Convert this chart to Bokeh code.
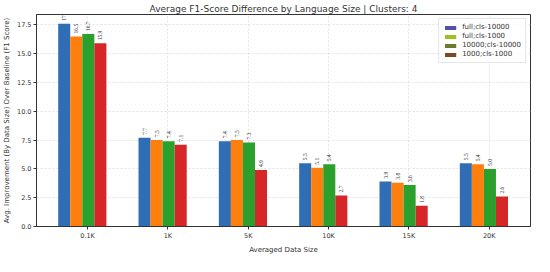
import numpy as np
from bokeh.plotting import figure
from bokeh.models import ColumnDataSource, Range1d, FixedTicker, Legend, LegendItem, CustomJSTickFormatter
from bokeh.embed import file_html
from bokeh.resources import INLINE

categories = ["0.1K", "1K", "5K", "10K", "15K", "20K"]
series_names = ["full;cls-10000", "full;cls-1000", "10000;cls-10000", "1000;cls-1000"]
s_full_10000 = [17.6, 7.7, 7.4, 5.5, 3.9, 5.5]
s_full_1000 = [16.5, 7.5, 7.5, 5.1, 3.8, 5.4]
s_10000_10000 = [16.7, 7.4, 7.3, 5.4, 3.6, 5.0]
s_1000_1000 = [15.9, 7.1, 4.9, 2.7, 1.8, 2.6]
series = [s_full_10000, s_full_1000, s_10000_10000, s_1000_1000]

bar_colors = ["#2f6db5", "#ff7f0e", "#2ca02c", "#d62728"]
legend_colors = ["#5252a8", "#9cc21e", "#6b7a2c", "#7a4a24"]

FONT = "DejaVu Sans"
bw = 0.15

p = figure(width=534, height=256, output_backend="svg", toolbar_location=None,
           x_range=Range1d(-0.57, 5.58), y_range=Range1d(0, 18.4),
           title="Average F1-Score Difference by Language Size | Clusters: 4",
           min_border_left=4, min_border_right=4, min_border_top=2, min_border_bottom=2)

p.title.align = "center"
p.title.text_font = FONT
p.title.text_font_size = "9px"
p.title.text_font_style = "normal"
p.title.text_color = "#333333"
p.title.standoff = 2

x_idx = np.arange(len(categories))
items = []
for j, (vals, name) in enumerate(zip(series, series_names)):
    xs = x_idx + (j - 1.5) * bw
    src = ColumnDataSource(dict(x=xs, top=vals, lab=[f"{v:.1f}" for v in vals]))
    p.vbar(x="x", top="top", width=bw, bottom=0, source=src,
           fill_color=bar_colors[j], line_color=None)
    p.text(x="x", y="top", text="lab", source=src, angle=np.pi / 2,
           x_offset=0, y_offset=-3, text_align="left", text_baseline="middle",
           text_font_size="5.5px", text_color="#333333", text_font="DejaVu Sans")
    dummy = p.vbar(x=[-10], top=[0], width=0.1, fill_color=legend_colors[j], line_color=None)
    items.append(LegendItem(label=name, renderers=[dummy]))

legend = Legend(items=items, location="top_right")
legend.label_text_font = FONT
legend.label_text_font_size = "7px"
legend.label_text_color = "#333333"
legend.glyph_width = 14
legend.glyph_height = 5
legend.label_height = 8
legend.spacing = 1
legend.padding = 4
legend.margin = 4
legend.border_line_color = "#cccccc"
legend.background_fill_alpha = 0.8
p.add_layout(legend)

p.xaxis.ticker = FixedTicker(ticks=list(x_idx + 0.066))
p.xaxis.major_label_overrides = {float(x_idx[i] + 0.066): c for i, c in enumerate(categories)}
p.yaxis.ticker = FixedTicker(ticks=[0, 2.5, 5, 7.5, 10, 12.5, 15, 17.5])
p.yaxis.formatter = CustomJSTickFormatter(code="return tick.toFixed(1);")

for ax in (p.xaxis[0], p.yaxis[0]):
    ax.major_label_text_font = FONT
    ax.major_label_text_font_size = "6.5px"
    ax.major_label_text_color = "#333333"
    ax.axis_label_text_font = FONT
    ax.axis_label_text_font_size = "7px"
    ax.axis_label_text_font_style = "normal"
    ax.axis_label_text_color = "#333333"
    ax.minor_tick_line_color = None
    ax.major_tick_out = 3
    ax.major_tick_in = 0
    ax.axis_line_color = "#333333"
    ax.major_tick_line_color = "#333333"
    ax.axis_label_standoff = 3
    ax.major_label_standoff = 2

p.xaxis.axis_label = "Averaged Data Size"
p.yaxis.axis_label = "Avg. Improvement (By Data Size) Over Baseline (F1 Score)"

p.xgrid.grid_line_color = "#e2e2e2"
p.ygrid.grid_line_color = "#e2e2e2"
p.xgrid.grid_line_dash = "2 2"
p.ygrid.grid_line_dash = "2 2"
p.outline_line_color = "#333333"
p.background_fill_color = "white"

open("out.html", "w").write(file_html(p, INLINE))
